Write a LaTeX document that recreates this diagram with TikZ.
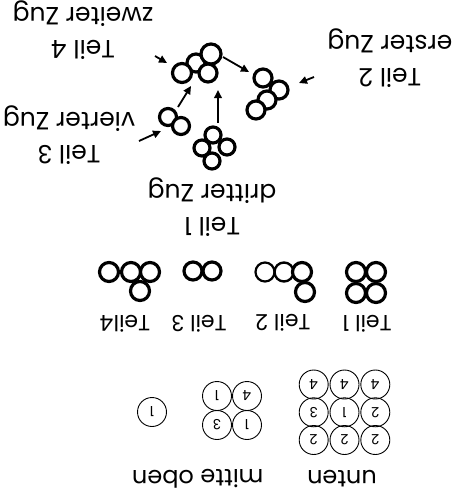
\documentclass[tikz,border=0pt]{standalone}
\usepackage{fontspec}
\setmainfont{Poppins}
\usetikzlibrary{arrows.meta}
\begin{document}
\begin{tikzpicture}[x=1pt,y=-1pt,
  lbl/.style={rotate=180, align=center, inner sep=0pt, font=\fontsize{25}{33}\selectfont},
  slbl/.style={rotate=180, inner sep=0pt, font=\fontsize{22}{24}\selectfont},
  blbl/.style={rotate=180, inner sep=0pt, font=\fontsize{24}{26}\selectfont},
  ball/.style={circle, draw=black, fill=white, line width=3.2pt, minimum size=18pt, inner sep=0pt},
  cell/.style={circle, draw=black, line width=0.9pt, minimum size=29pt, inner sep=0pt, rotate=180, font=\fontsize{14}{14}\selectfont},
  arr/.style={line width=1.8pt, -{Triangle[length=8pt,width=7.5pt]}}]
\useasboundingbox (0,0) rectangle (453,501);

% ---------- top: assembly ----------
\node[lbl] (L4) at (83,30) {Teil 4\\zweiter Zug};
\node[lbl] (L2) at (390,58) {Teil 2\\erster Zug};
\node[lbl] (L3) at (69,135) {Teil 3\\vierter Zug};
\node[lbl] (L1) at (212,207) {Teil 1\\dritter Zug};

% Teil 4 assembled
\node[ball] (a4b) at (196,63) {};
\node[ball, minimum size=20pt] (a4a) at (211,54) {};
\node[ball, minimum size=19pt] (a4c) at (182,73) {};
\node[ball, minimum size=18pt] (a4d) at (208,73) {};
% Teil 2 assembled
\node[ball] (a2a) at (263,78) {};
\node[ball] (a2b) at (279,90) {};
\node[ball] (a2c) at (267,100) {};
\node[ball] (a2d) at (256,110) {};
% Teil 3 assembled
\node[ball, minimum size=17pt] (a3a) at (168,117) {};
\node[ball, minimum size=17pt] (a3b) at (181,126) {};
% Teil 1 assembled
\node[ball, minimum size=16pt] (a1a) at (213,135) {};
\node[ball, minimum size=16pt] (a1b) at (202,148) {};
\node[ball, minimum size=16pt] (a1c) at (227,147) {};
\node[ball, minimum size=16pt] (a1d) at (212,161) {};

% arrows
\coordinate (pAs) at (218,123); \coordinate (pAe) at (218,90);
\coordinate (pBs) at (178,107); \coordinate (pBe) at (191,86);
\coordinate (pCs) at (223,57);  \coordinate (pCe) at (249,72);
\coordinate (pDs) at (155,56);  \coordinate (pDe) at (167,63);
\coordinate (pEs) at (314,77);  \coordinate (pEe) at (299,83);
\coordinate (pFs) at (139,141); \coordinate (pFe) at (161,131);
\draw[arr] (pAs) -- (pAe);
\draw[arr] (pBs) -- (pBe);
\draw[arr] (pCs) -- (pCe);
\draw[arr] (pDs) -- (pDe);
\draw[arr] (pEs) -- (pEe);
\draw[arr] (pFs) -- (pFe);

% ---------- middle: parts ----------
\node[slbl] (s1) at (367,324) {Teil 1};
\node[slbl] (s2) at (283,323) {Teil 2};
\node[slbl] (s3) at (199,324) {Teil 3};
\node[slbl] (s4) at (125,324) {Teil4};

% Teil 1
\node[ball, minimum size=19pt] (p1a) at (356,272) {};
\node[ball, minimum size=19pt] (p1b) at (376,272) {};
\node[ball, minimum size=19pt] (p1c) at (356,293) {};
\node[ball, minimum size=19pt] (p1d) at (376,293) {};
% Teil 2
\node[ball, minimum size=19pt, line width=2.2pt] (p2a) at (265,272) {};
\node[ball, minimum size=19pt, line width=2.4pt] (p2b) at (284,272) {};
\node[ball, minimum size=19pt] (p2c) at (302,272) {};
\node[ball, minimum size=19pt] (p2d) at (305,292) {};
% Teil 3
\node[ball, minimum size=18pt] (p3a) at (193,271) {};
\node[ball, minimum size=18pt] (p3b) at (212,271) {};
% Teil 4
\node[ball, minimum size=19pt] (p4a) at (109,272) {};
\node[ball, minimum size=19pt] (p4b) at (131,272) {};
\node[ball, minimum size=19pt] (p4c) at (150,272) {};
\node[ball, minimum size=19pt] (p4d) at (140,291) {};

% ---------- bottom: layers ----------
\node[cell] (u11) at (313.7,384.5) {4};
\node[cell] (u12) at (344.5,384.5) {4};
\node[cell] (u13) at (375.3,384.5) {4};
\node[cell] (u21) at (313.7,412.3) {3};
\node[cell] (u22) at (344.5,412.3) {1};
\node[cell] (u23) at (375.3,412.3) {2};
\node[cell] (u31) at (313.7,440) {2};
\node[cell] (u32) at (344.5,440) {2};
\node[cell] (u33) at (375.3,440) {2};

\node[cell] (m11) at (217,396) {1};
\node[cell] (m12) at (247,396) {4};
\node[cell] (m21) at (217,425) {3};
\node[cell] (m22) at (247,425) {1};

\node[cell] (o11) at (152,412) {1};

\node[blbl] (bu) at (342,479) {unten};
\node[blbl] (bm) at (232,479) {mitte};
\node[blbl] (bo) at (163,479) {oben};
\end{tikzpicture}
\end{document}
